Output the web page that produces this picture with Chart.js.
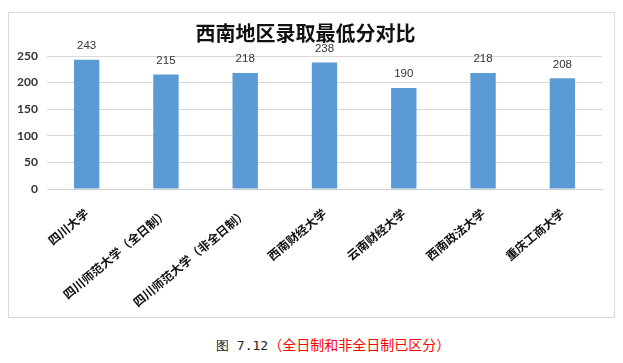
<!DOCTYPE html>
<html>
<head>
<meta charset="utf-8">
<script src="https://cdn.jsdelivr.net/npm/chart.js@4.4.1/dist/chart.umd.min.js"></script>
<style>
  html, body { margin: 0; padding: 0; background: #fff; }
  body { width: 623px; height: 363px; position: relative; overflow: hidden; }
  #box { position: absolute; left: 8px; top: 12px; width: 605px; height: 304px; border: 1px solid #d9d9d9; }
  #caption { position: absolute; left: 216px; top: 334px; font-size: 14px; line-height: 20px; white-space: nowrap;
             font-family: "Noto Sans CJK SC", sans-serif; }
  #caption .fig { font-family: "DejaVu Sans Mono", "Liberation Mono", monospace; color: #222; font-size: 13px; }
  #caption .note { color: #ff0000; }
</style>
</head>
<body>
<div id="box"><canvas id="mycanvas" width="605" height="304"></canvas></div>
<div id="caption"><span class="fig">图 7.12</span><span class="note">（全日制和非全日制已区分）</span></div>
<script>
var schools = ['四川大学', '四川师范大学（全日制）', '四川师范大学（非全日制）', '西南财经大学', '云南财经大学', '西南政法大学', '重庆工商大学'];
var scores = [243, 215, 218, 238, 190, 218, 208];
var yTicks = [0, 50, 100, 150, 200, 250];

// numbers above each bar
var valueLabels = {
	id: 'valueLabels',
	afterDatasetsDraw: function(chart) {
		var ctx = chart.ctx;
		var meta = chart.getDatasetMeta(0);
		ctx.save();
		ctx.font = '11.5px "Liberation Sans", Arial, sans-serif';
		ctx.fillStyle = '#333';
		ctx.textAlign = 'center';
		ctx.textBaseline = 'middle';
		meta.data.forEach(function(bar, i) {
			ctx.fillText(scores[i], bar.x, bar.y - 14);
		});
		ctx.restore();
	}
};

var ctx = document.getElementById('mycanvas');

var barGraph = new Chart(ctx, {
	type: 'bar',
	data: {
		labels: schools,
		datasets: [{
			data: scores,
			backgroundColor: '#5b9bd5',
			borderWidth: 0,
			barPercentage: 0.4,
			categoryPercentage: 0.8
		}]
	},
	options: {
		responsive: false,
		animation: false,
		layout: { padding: { left: 0, right: 12, top: 0, bottom: 0 } },
		plugins: {
			legend: { display: false },
			tooltip: { enabled: false },
			title: {
				display: true,
				text: '西南地区录取最低分对比',
				color: '#111',
				font: { family: '"Noto Sans CJK SC", serif', size: 20, weight: 'bold' },
				padding: { top: 8, bottom: 11 }
			}
		},
		scales: {
			y: {
				min: 0,
				max: 250,
				afterBuildTicks: function(scale) {
					scale.ticks = yTicks.map(function(v) { return { value: v }; });
				},
				afterFit: function(scale) { scale.width = 38; },
				border: { display: false },
				grid: { color: '#d9d9d9', drawTicks: false },
				ticks: {
					padding: 9,
					color: '#333',
					font: { family: 'Lato, "Liberation Sans", sans-serif', size: 12, weight: 'bold' }
				}
			},
			x: {
				afterFit: function(scale) { scale.height = 128; },
				border: { color: '#d0d0d0' },
				grid: { display: false },
				ticks: {
					minRotation: 40,
					maxRotation: 40,
					autoSkip: false,
					padding: 9,
					color: '#111',
					font: { family: '"Noto Sans CJK SC", sans-serif', size: 12, weight: 'bold' }
				}
			}
		}
	},
	plugins: [valueLabels]
});
</script>
</body>
</html>
